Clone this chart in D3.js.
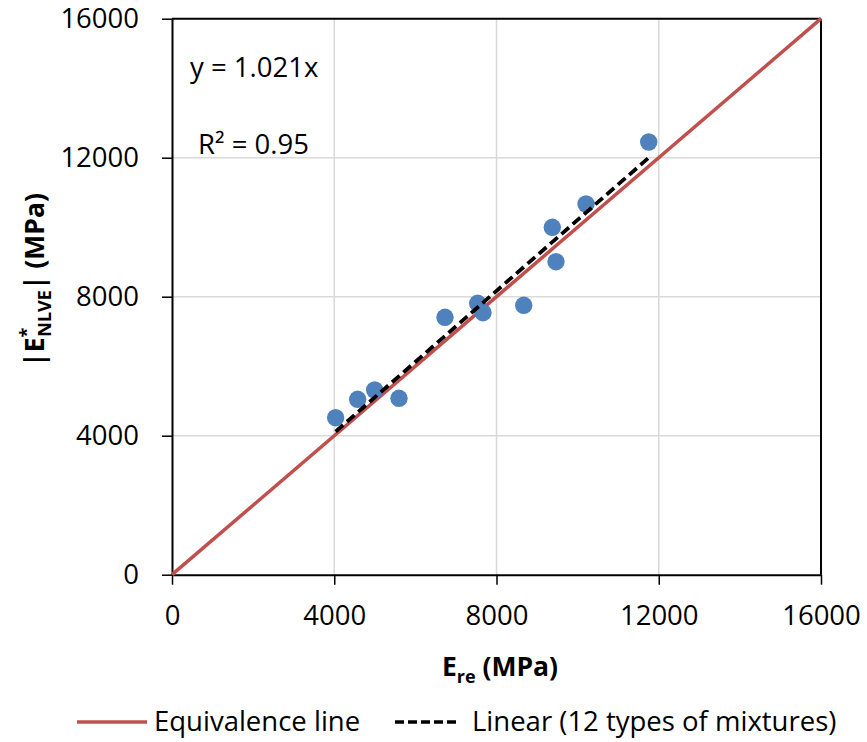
<!DOCTYPE html>
<html>
<head>
<meta charset="utf-8">
<script src="https://cdn.jsdelivr.net/npm/d3@7"></script>
<style>
  html, body { margin: 0; padding: 0; background: #fff; }
  svg { display: block; font-family: "Open Sans", "Noto Sans", sans-serif; }
</style>
</head>
<body>
<svg id="chart" width="867" height="742"></svg>
<script>
// ---- data ----
const Ere   = [4034, 4577, 4996, 5596, 6730, 7536, 7667, 8671, 9376, 9467, 10207, 11753];
const Enlve = [4518, 5047, 5315, 5076, 7407, 7810, 7540, 7753, 9997, 9007, 10668, 12452];
const xTicks = [0, 4000, 8000, 12000, 16000];
const yTicks = [0, 4000, 8000, 12000, 16000];
const slope = 1.021;
const r2Label = "R² = 0.95";
const eqLabel = "y = 1.021x";
const legendLabels = ["Equivalence line", "Linear (12 types of mixtures)"];

// ---- layout ----
const svg = d3.select("#chart");
const pL = 172, pR = 821, pT = 18.7, pB = 574.7;
const FS = "27.5px";
const x = d3.scaleLinear().domain([0, 16000]).range([pL, pR]);
const y = d3.scaleLinear().domain([0, 16000]).range([pB, pT]);

// gridlines
const grid = svg.append("g");
grid.selectAll(".gx").data(xTicks.slice(1, -1)).join("line")
  .attr("x1", d => x(d)).attr("x2", d => x(d))
  .attr("y1", pT).attr("y2", pB)
  .attr("stroke", "#d9d9d9").attr("stroke-width", 1.5);
grid.selectAll(".gy").data(yTicks.slice(1, -1)).join("line")
  .attr("y1", d => y(d)).attr("y2", d => y(d))
  .attr("x1", pL).attr("x2", pR)
  .attr("stroke", "#d9d9d9").attr("stroke-width", 1.5);

// border (top & right)
svg.append("line").attr("x1", pL).attr("x2", pR).attr("y1", pT).attr("y2", pT)
  .attr("stroke", "#000").attr("stroke-width", 2);
svg.append("line").attr("x1", pR).attr("x2", pR).attr("y1", pT).attr("y2", pB)
  .attr("stroke", "#000").attr("stroke-width", 2);

// axes
const xAxis = svg.append("g").attr("transform", `translate(0,${pB})`)
  .call(d3.axisBottom(x).tickValues(xTicks).tickFormat(d3.format("d")).tickSize(10).tickSizeOuter(0).tickPadding(21));
const yAxis = svg.append("g").attr("transform", `translate(${pL},0)`)
  .call(d3.axisLeft(y).tickValues(yTicks).tickFormat(d3.format("d")).tickSize(10).tickSizeOuter(0).tickPadding(23));
[xAxis, yAxis].forEach(g => {
  g.select(".domain").attr("stroke", "#000").attr("stroke-width", 2);
  g.selectAll(".tick line").attr("stroke", "#000").attr("stroke-width", 1.5);
  g.selectAll(".tick text").attr("fill", "#000").style("font-size", FS)
    .style("font-family", '"Open Sans", sans-serif');
});
xAxis.selectAll(".tick text").attr("dy", "0.71em");

// equivalence line
svg.append("line")
  .attr("x1", x(0)).attr("y1", y(0)).attr("x2", x(16000)).attr("y2", y(16000))
  .attr("stroke", "#c0504d").attr("stroke-width", 3.5);

// points
svg.append("g").selectAll("circle").data(Ere.map((v, i) => [v, Enlve[i]])).join("circle")
  .attr("cx", d => x(d[0])).attr("cy", d => y(d[1])).attr("r", 8.7)
  .attr("fill", "#4f81bd");

// trend line
const xmin = d3.min(Ere), xmax = d3.max(Ere);
svg.append("line")
  .attr("x1", x(xmin)).attr("y1", y(slope * xmin))
  .attr("x2", x(xmax)).attr("y2", y(slope * xmax))
  .attr("stroke", "#000").attr("stroke-width", 3.8)
  .attr("stroke-dasharray", "10,5");

// equation labels
svg.append("text").attr("x", 190).attr("y", 77).style("font-size", FS).text(eqLabel);
svg.append("text").attr("x", 198).attr("y", 154).style("font-size", FS).text(r2Label);

// x axis title
const xt = svg.append("text").attr("x", 500).attr("y", 676).attr("text-anchor", "middle")
  .style("font-size", "26.5px").style("font-weight", "bold");
xt.append("tspan").text("E");
xt.append("tspan").attr("dy", 7).style("font-size", "18px").text("re");
xt.append("tspan").attr("dy", -7).text(" (MPa)");

// y axis title
const yt = svg.append("text").attr("transform", "translate(44,280) rotate(-90)")
  .attr("text-anchor", "middle").style("font-size", "26.5px").style("font-weight", "bold");
yt.append("tspan").text("|E");
yt.append("tspan").attr("dy", -11).style("font-size", "18px").text("*");
yt.append("tspan").attr("dy", 18).attr("dx", -9).style("font-size", "18px").text("NLVE");
yt.append("tspan").attr("dy", -7).text("| (MPa)");

// legend
const lg = svg.append("g");
lg.append("line").attr("x1", 77).attr("x2", 147).attr("y1", 722).attr("y2", 722)
  .attr("stroke", "#c0504d").attr("stroke-width", 3.5);
lg.append("text").attr("x", 154).attr("y", 731).style("font-size", FS).text(legendLabels[0]);
lg.append("line").attr("x1", 395).attr("x2", 458).attr("y1", 722).attr("y2", 722)
  .attr("stroke", "#000").attr("stroke-width", 3.5).attr("stroke-dasharray", "9,4");
lg.append("text").attr("x", 472).attr("y", 731).style("font-size", FS).text(legendLabels[1]);
</script>
</body>
</html>
